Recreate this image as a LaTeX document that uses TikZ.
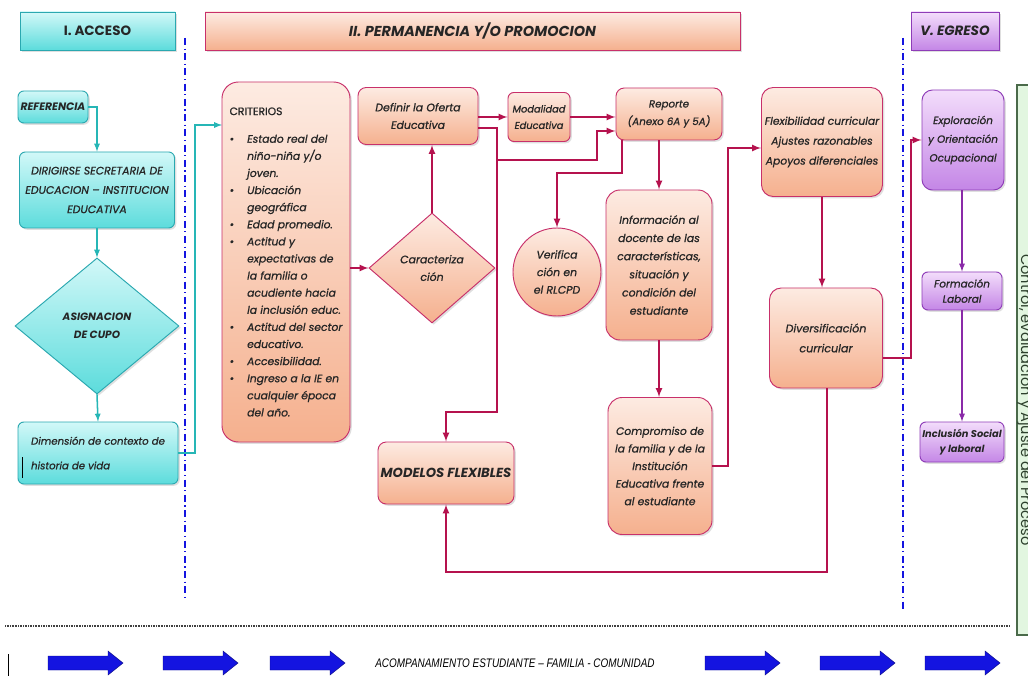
\documentclass[tikz,border=0pt]{standalone}
\usepackage{fontspec}
\setmainfont{Poppins}
\newfontfamily\boxfont{Poppins}[FakeBold=0.9]
\newfontfamily\narrowfont{Liberation Sans}[FakeStretch=0.8]
\usetikzlibrary{shapes.geometric,shadows}

\definecolor{cyanT}{HTML}{D2F8F8}
\definecolor{cyanB}{HTML}{5CDCDC}
\definecolor{cyanD}{HTML}{2AA8B0}
\definecolor{peachT}{HTML}{FDEBE2}
\definecolor{peachB}{HTML}{F5B08E}
\definecolor{peachD}{HTML}{C8306A}
\definecolor{lilaT}{HTML}{F3DDFB}
\definecolor{lilaB}{HTML}{C486E6}
\definecolor{lilaD}{HTML}{8E3CB8}
\definecolor{linea}{HTML}{B5124E}
\definecolor{lineaC}{HTML}{26B6B6}
\definecolor{lineaL}{HTML}{8A2AA8}
\definecolor{azul}{HTML}{1414E0}
\definecolor{verdeF}{HTML}{E2F6E0}
\definecolor{verdeD}{HTML}{4A6A4A}

\newcommand{\bul}{\makebox[15pt][l]{\textbullet}}
\newcommand{\ind}{\hspace*{15pt}}
\newcommand{\fs}[2]{\fontsize{#1}{#2}\selectfont}

\begin{document}
\begin{tikzpicture}[x=0.03cm, y=-0.03cm, >=latex]
    \tikzstyle{txt}=[font=\boxfont\fs{9.3}{15}\itshape, align=center, inner sep=2pt, text=black!85]
    \tikzstyle{sombra}=[drop shadow={opacity=0.25, shadow xshift=1.5pt, shadow yshift=-1.5pt}]
    \tikzstyle{accbox}=[txt, sombra, draw=cyanD, line width=0.8pt, top color=cyanT, bottom color=cyanB, rounded corners=5pt]
    \tikzstyle{permbox}=[txt, sombra, draw=peachD, line width=0.8pt, top color=peachT, bottom color=peachB, rounded corners=7pt]
    \tikzstyle{egrbox}=[txt, sombra, draw=lilaD, line width=0.8pt, top color=lilaT, bottom color=lilaB, rounded corners=5pt]
    \tikzstyle{head}=[font=\fs{11.5}{13}\bfseries, sharp corners]
    \tikzstyle{cline}=[->, draw=lineaC, line width=1.3pt]
    \tikzstyle{pline}=[->, draw=linea, line width=1.6pt]
    \tikzstyle{lline}=[->, draw=lineaL, line width=1.3pt]
    \tikzstyle{sep}=[draw=azul, line width=0.9pt, dash pattern=on 6pt off 3pt on 1pt off 3pt]
    \tikzset{sz/.style 2 args={minimum width=#1*0.03cm, minimum height=#2*0.03cm}}

    \useasboundingbox[fill=white] (0,0) rectangle (1028,681);

    % phase headers
    \node at (97.5,31) (hAcc) [accbox, head, sz={155}{38}] {I. ACCESO};
    \node at (472.5,31) (hPerm) [permbox, head, sz={535}{38}, font=\fs{12.3}{14}\bfseries] {\itshape II. PERMANENCIA Y/O PROMOCION};
    \node at (955,31) (hEgr) [egrbox, head, sz={88}{38}] {\itshape V. EGRESO};

    \draw[sep] (185,38) -- (185,600);
    \draw[sep] (903,38) -- (903,610);

    % I. acceso
    \node at (53,107) (ref) [accbox, sz={70}{32}, inner sep=1pt, font=\fs{9.2}{10}\bfseries\itshape] {REFERENCIA};
    \node at (97,190) (dir) [accbox, sz={155}{76}, font=\boxfont\fs{9.3}{16.5}\itshape] {DIRIGIRSE SECRETARIA DE\\EDUCACION – INSTITUCION\\EDUCATIVA};
    \node at (97,326) (asig) [accbox, diamond, sharp corners, inner sep=0pt, sz={164}{136}, font=\fs{9}{15}\bfseries\itshape] {ASIGNACION\\DE CUPO};
    \node at (98,453) (dim) [accbox, sz={160}{62}, align=left, font=\boxfont\fs{8.7}{21}\itshape] {Dimensión de contexto de\\historia de vida};
    \draw[black, line width=0.6pt] (22,457) -- (22,478);

    \draw[cline] (ref.east) -| (dir.north);
    \draw[cline] (dir.south) -- (asig.north);
    \draw[cline] (asig.south) -- (dim.north);
    \coordinate (j0) at (195,125);
    \draw[cline] (dim.east) -| (j0) -- (j0 -| 222,0);

    % II. permanencia y/o promocion
    \node at (286,262) (crit) [permbox, sz={128}{360}, rounded corners=14pt, align=left, inner sep=0pt, font=\boxfont\fs{9.2}{14.6}\itshape] {%
        {\upshape CRITERIOS}\\[9pt]
        \bul Estado real del\\ \ind niño-niña y/o\\ \ind joven.\\
        \bul Ubicación\\ \ind geográfica\\
        \bul Edad promedio.\\
        \bul Actitud y\\ \ind expectativas de\\ \ind la familia o\\ \ind acudiente hacia\\ \ind la inclusión educ.\\
        \bul Actitud del sector\\ \ind educativo.\\
        \bul Accesibilidad.\\
        \bul Ingreso a la IE en\\ \ind cualquier época\\ \ind del año.};
    \node at (418,116) (def) [permbox, sz={120}{57}] {Definir la Oferta\\Educativa};
    \node at (432,268) (car) [permbox, diamond, sharp corners, inner sep=0pt, sz={126}{110}] {Caracteriza\\ción};
    \node at (539,117) (mod) [permbox, sz={62}{49}, rounded corners=5pt, inner sep=1pt, font=\boxfont\fs{8.4}{14}\itshape] {Modalidad\\Educativa};
    \node at (669,114) (rep) [permbox, sz={106}{52}, font=\boxfont\fs{8.8}{15}\itshape] {Reporte\\(Anexo 6A y 5A)};
    \node at (557,272) (ver) [permbox, circle, sz={88}{88}, inner sep=0pt] {Verifica\\ción en\\el RLCPD};
    \node at (659,265) (inf) [permbox, sz={106}{150}, rounded corners=12pt, inner sep=1pt, font=\boxfont\fs{9.3}{15.5}\itshape] {Información al\\docente de las\\características,\\situación y\\condición del\\estudiante};
    \node at (660,466) (comp) [permbox, sz={104}{137}, rounded corners=12pt, inner sep=1pt, font=\boxfont\fs{9.2}{15}\itshape] {Compromiso de\\la familia y de la\\Institución\\Educativa frente\\al estudiante};
    \node at (822,142) (flex) [permbox, sz={121}{109}, rounded corners=10pt, inner sep=1pt, font=\boxfont\fs{9.2}{17}\itshape] {Flexibilidad curricular\\Ajustes razonables\\Apoyos diferenciales};
    \node at (826,338) (div) [permbox, sz={113}{100}, rounded corners=10pt, font=\boxfont\fs{9.5}{17}\itshape] {Diversificación\\curricular};
    \node at (446,473) (modf) [permbox, sz={136}{62}, font=\fs{11.2}{13}\bfseries\itshape] {MODELOS FLEXIBLES};

    \draw[pline] (crit.east |- car.west) -- (car.west);
    \draw[pline] (car.north) -- (car.north |- def.south);
    \draw[pline] (def.east |- mod.west) -- (mod.west);
    \draw[pline] (mod.east) -- (mod.east -| rep.west);
    \coordinate (j1) at (497,128);
    \coordinate (j2) at (597,160);
    \coordinate (j3) at (597,131);
    \draw[pline] (def.east |- j1) -- (j1) |- (j2) -- (j3) -- (j3 -| rep.west);
    \draw[pline] (j1) -- (497,412) -| (modf.north);
    \coordinate (j4) at (622,173);
    \draw[pline] (j4 |- rep.south) -- (j4) -| (ver.north);
    \draw[pline] (inf.north |- rep.south) -- (inf.north);
    \draw[pline] (inf.south) -- (inf.south |- comp.north);
    \coordinate (j5) at (728,148);
    \draw[pline] (comp.east) -| (j5) -- (j5 -| flex.west);
    \draw[pline] (flex.south) -- (flex.south |- div.north);
    \coordinate (j6) at (827,572);
    \draw[pline] (div.south -| j6) -- (j6) -| (modf.south);

    % V. egreso
    \node at (963,140) (exp) [egrbox, sz={82}{100}, rounded corners=9pt, inner sep=1pt, font=\boxfont\fs{8.9}{16}\itshape] {Exploración\\y Orientación\\Ocupacional};
    \node at (962,291) (form) [egrbox, sz={80}{38}, inner sep=1pt, font=\boxfont\fs{8.9}{13}\itshape] {Formación\\Laboral};
    \node at (962,442) (incl) [egrbox, sz={84}{40}, inner sep=1pt, font=\fs{8.4}{13}\bfseries\itshape] {Inclusión Social\\y laboral};
    \coordinate (j7) at (911,358);
    \draw[pline] (j7 -| div.east) -- (j7) |- (exp.west);
    \draw[lline] (exp.south -| form.north) -- (form.north);
    \draw[lline] (form.south) -- (incl.north);

    \node at (1029,360) (ctrl) [draw=verdeD, line width=1pt, fill=verdeF, sz={24}{550}] {};
    \node at (1025,400) (ctrlT) [rotate=-90, font=\fs{12.5}{13}, text=verdeD!60!black] {Control, evaluación y Ajuste del Proceso};

    % acompanamiento
    \draw[black!75, line width=1.5pt, dash pattern=on 0.7pt off 0.7pt] (5,626) -- (1010,626);
    \draw[black, line width=0.6pt] (8,654) -- (8,676);
    \foreach \x in {48,163,270,705,820,925}
        \draw[fill=azul, draw=azul!60!black, line width=0.4pt] (\x,656) -- (\x+60,656) -- (\x+60,651) -- (\x+75,663) -- (\x+60,675) -- (\x+60,670) -- (\x,670) -- cycle;
    \node at (515,663) (acomp) [font=\narrowfont\fs{10.6}{12}\itshape] {ACOMPANAMIENTO ESTUDIANTE – FAMILIA - COMUNIDAD};

\end{tikzpicture}
\end{document}
